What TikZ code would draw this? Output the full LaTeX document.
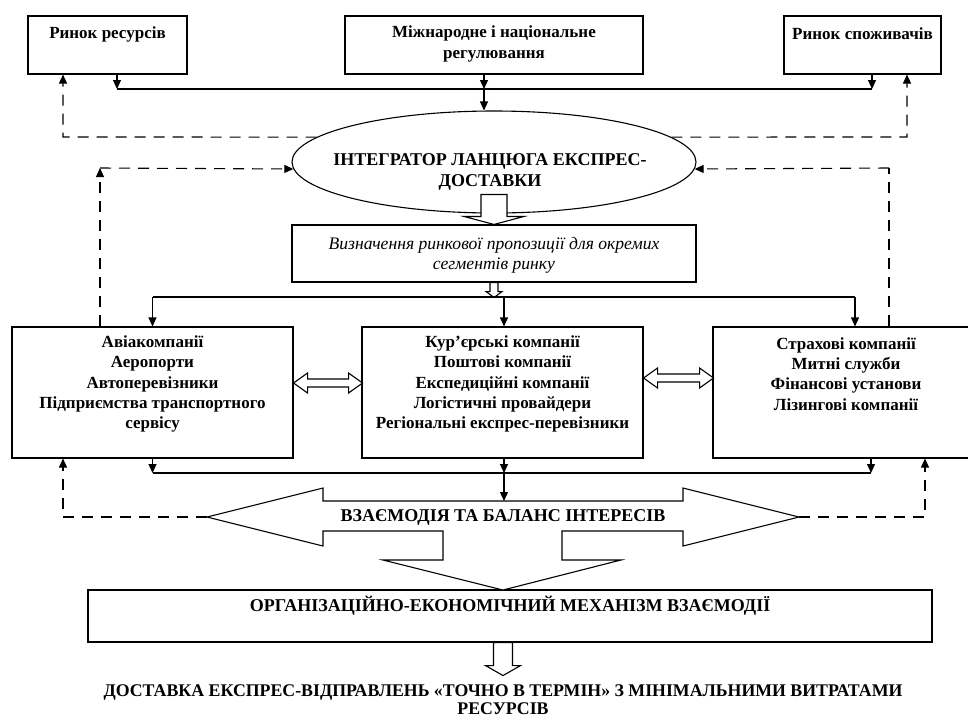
\documentclass[tikz,border=0pt]{standalone}
\usepackage{fontspec}
\setmainfont{Liberation Serif}
\usetikzlibrary{shapes.geometric, arrows.meta, positioning, calc}

\begin{document}
\begin{tikzpicture}[
    x=1pt, y=-1pt,
    box/.style={rectangle, draw=black, line width=1.1pt, inner sep=0pt},
    oval/.style={ellipse, draw=black, line width=1.1pt, inner sep=0pt, minimum width=404pt, minimum height=102pt},
    txt/.style={font=\fontsize{17}{20.3}\selectfont\bfseries, align=center, inner sep=0pt},
    captxt/.style={font=\fontsize{18}{20.5}\selectfont\bfseries, align=center, inner sep=0pt},
    itxt/.style={font=\fontsize{17.6}{20}\selectfont\itshape, align=center, inner sep=0pt},
    arrow/.style={-{Triangle[length=9pt, width=8pt]}, line width=1.1pt},
    back/.style={-{Triangle[length=9pt, width=8pt]}, line width=1.1pt, dash pattern=on 11pt off 8pt},
    dashline/.style={line width=1.1pt, dash pattern=on 11pt off 8pt},
    bus/.style={line width=1.1pt},
    hollow/.style={draw=black, fill=white, line width=1.1pt, line join=miter}
]
\clip (0,0) rectangle (968,718);
\fill[white] (0,0) rectangle (968,718);

% Top level
\node[box, minimum width=159pt, minimum height=58pt] (res) at (107.5,45) {};
\node[txt] (resT) at (107.5,34) {Ринок ресурсів};
\node[box, minimum width=298pt, minimum height=58pt] (reg) at (494,45) {};
\node[txt] (regT) at (494,44) {Міжнародне і національне\\регулювання};
\node[box, minimum width=157pt, minimum height=58pt] (spoz) at (862.5,45) {};
\node[txt] (spozT) at (862.5,34) {Ринок споживачів};

% Integrator
\node[oval] (integ) at (494,162) {};
\node[captxt] (integT) at (490,172) {ІНТЕГРАТОР ЛАНЦЮГА ЕКСПРЕС-\\ДОСТАВКИ};

% Market offer
\node[box, minimum width=404pt, minimum height=57pt] (seg) at (494,253.5) {};
\node[itxt] (segT) at (494,255) {Визначення ринкової пропозиції для окремих\\сегментів ринку};

% Participants
\node[box, minimum width=281pt, minimum height=131pt] (lb) at (152.5,392.5) {};
\node[txt] (lbT) at (152.5,384) {Авіакомпанії\\Аеропорти\\Автоперевізники\\Підприємства транспортного\\сервісу};
\node[box, minimum width=281pt, minimum height=131pt] (mb) at (502.5,392.5) {};
\node[txt] (mbT) at (502.5,384) {Кур’єрські компанії\\Поштові компанії\\Експедиційні компанії\\Логістичні провайдери\\Регіональні експрес-перевізники};
\node[box, minimum width=266pt, minimum height=131pt] (rb) at (846,392.5) {};
\node[txt] (rbT) at (846,374) {Страхові компанії\\Митні служби\\Фінансові установи\\Лізингові компанії};

% Mechanism
\node[box, minimum width=844pt, minimum height=52pt] (mech) at (510,616) {};
\node[captxt] (mechT) at (510,606) {ОРГАНІЗАЦІЙНО-ЕКОНОМІЧНИЙ МЕХАНІЗМ ВЗАЄМОДІЇ};
\node[captxt, font=\fontsize{17.8}{18}\selectfont\bfseries] (goal) at (503,700) {ДОСТАВКА ЕКСПРЕС-ВІДПРАВЛЕНЬ «ТОЧНО В ТЕРМІН» З МІНІМАЛЬНИМИ ВИТРАТАМИ\\РЕСУРСІВ};

% Helper points
\coordinate (busL) at (117,89);
\coordinate (busM) at (484,89);
\coordinate (busR) at (872,89);
\coordinate (retL) at (63,137);
\coordinate (retR) at (907,137);
\coordinate (fbL) at (100,168);
\coordinate (fbR) at (889,168);
\coordinate (distL) at (152.5,297);
\coordinate (distM) at (504,297);
\coordinate (distR) at (855,297);
\coordinate (collL) at (152.5,473);
\coordinate (collM) at (504,473);
\coordinate (collR) at (871,473);
\coordinate (balTop) at (504,501);
\coordinate (tipL) at (207,517);
\coordinate (tipR) at (799,517);
\coordinate (cornL) at (63,517);
\coordinate (cornR) at (925,517);

% Top bus
\draw[bus] (busL) -- (busR);
\draw[arrow] (res.south -| busL) -- (busL);
\draw[arrow] (reg.south -| busM) -- (busM);
\draw[arrow] (spoz.south -| busR) -- (busR);
\draw[arrow] (busM) -- (integ.north -| busM);

% Feedback to markets
\draw[back] (integ.172) -- (retL) -- (res.south -| retL);
\draw[back] (integ.8) -- (retR) -- (spoz.south -| retR);

% Feedback to integrator
\draw[back] (lb.north -| fbL) -- (fbL);
\draw[back] (fbL) -- (integ.182);
\draw[dashline] (rb.north -| fbR) -- (fbR);
\draw[back] (fbR) -- (integ.358);

% Block arrows
\draw[hollow] (seg.north) -- ++(-30,-8) -- ++(17,0) -- ++(0,-22) -- ++(26,0) -- ++(0,22) -- ++(17,0) -- cycle;
\draw[hollow] ($(seg.south)+(0,15)$) -- ++(-8,-6) -- ++(4,0) -- ++(0,-9) -- ++(8,0) -- ++(0,9) -- ++(4,0) -- cycle;

% Distribution
\draw[bus] (distL) -- (distR);
\draw[arrow] (distL) -- (lb.north -| distL);
\draw[arrow] (distM) -- (mb.north -| distM);
\draw[arrow] (distR) -- (rb.north -| distR);

% Interaction between groups
\draw[hollow] ([yshift=9.5]lb.east) -- ++(14,-10) -- ++(0,6) -- ++(41,0) -- ++(0,-6) -- ++(14,10) -- ++(-14,10) -- ++(0,-6) -- ++(-41,0) -- ++(0,6) -- cycle;
\draw[hollow] ([yshift=14.5]mb.east) -- ++(14,-10) -- ++(0,6) -- ++(42,0) -- ++(0,-6) -- ++(14,10) -- ++(-14,10) -- ++(0,-6) -- ++(-42,0) -- ++(0,6) -- cycle;

% Collection
\draw[bus] (collL) -- (collR);
\draw[arrow] (lb.south -| collL) -- (collL);
\draw[arrow] (mb.south -| collM) -- (collM);
\draw[arrow] (rb.south -| collR) -- (collR);
\draw[arrow] (collM) -- (balTop);

% Balance of interests
\draw[hollow] (tipL) -- ++(116,-29) -- ++(0,13) -- ++(360,0) -- ++(0,-13) -- (tipR) -- ++(-116,29) -- ++(0,-15) -- ++(-121,0) -- ++(0,29) -- ++(59,0) -- ++(-118,30) -- ++(-120,-30) -- ++(60,0) -- ++(0,-29) -- ++(-120,0) -- ++(0,15) -- cycle;
\node[captxt] (bal) at (503,517) {ВЗАЄМОДІЯ ТА БАЛАНС ІНТЕРЕСІВ};
\draw[back] (tipL) -- (cornL) -- (lb.south -| cornL);
\draw[back] (tipR) -- (cornR) -- (rb.south -| cornR);

% Result
\draw[hollow] ([xshift=-16.5]mech.south) -- ++(0,23) -- ++(-8,0) -- ++(17.5,10) -- ++(17.5,-10) -- ++(-8,0) -- ++(0,-23) -- cycle;

\end{tikzpicture}
\end{document}
